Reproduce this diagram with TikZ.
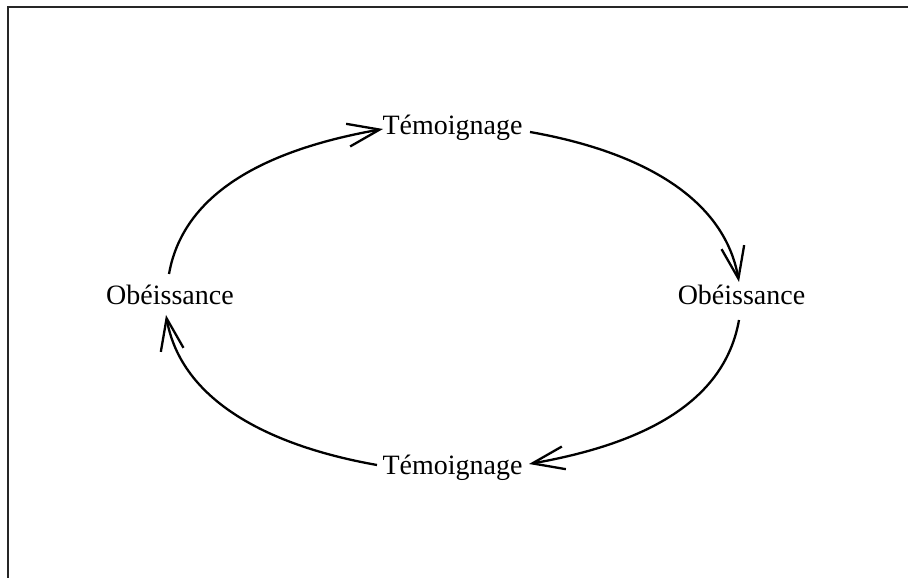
\documentclass[tikz,border=0pt]{standalone}
\usepackage{fontspec}
\setmainfont{Liberation Serif}
\usetikzlibrary{arrows.meta}
\begin{document}
\begin{tikzpicture}[x=1pt,y=1pt,
  lbl/.style={inner sep=0pt,anchor=base,font=\fontsize{28}{34}\selectfont},
  cyc/.style={line width=2.3pt,-{Straight Barb[length=32pt,width=23pt]}},
  frameline/.style={line width=1.4pt,black!85}]
\useasboundingbox (0,0) rectangle (908,578);
\draw[frameline] (908,571) -- (8,571) -- (8,0);
\node[lbl] (T1) at (452.5,443) {Témoignage};
\node[lbl] (T2) at (452.5,103) {Témoignage};
\node[lbl] (L) at (170,273) {Obéissance};
\node[lbl] (R) at (741.5,273) {Obéissance};
\draw[cyc] ([shift={(-1pt,31pt)}]L.base) to[out=80,in=190,out distance=88pt,in distance=108pt] ([shift={(-69.5pt,6pt)}]T1.base);
\draw[cyc] ([shift={(77.5pt,3pt)}]T1.base) to[out=-10,in=100,out distance=108pt,in distance=88pt] ([shift={(-2.5pt,23pt)}]R.base);
\draw[cyc] ([shift={(-2.5pt,-15pt)}]R.base) to[out=-100,in=10,out distance=88pt,in distance=108pt] ([shift={(76.5pt,11pt)}]T2.base);
\draw[cyc] ([shift={(-75.5pt,10pt)}]T2.base) to[out=170,in=280,out distance=108pt,in distance=88pt] ([shift={(-4pt,-10pt)}]L.base);
\end{tikzpicture}
\end{document}
